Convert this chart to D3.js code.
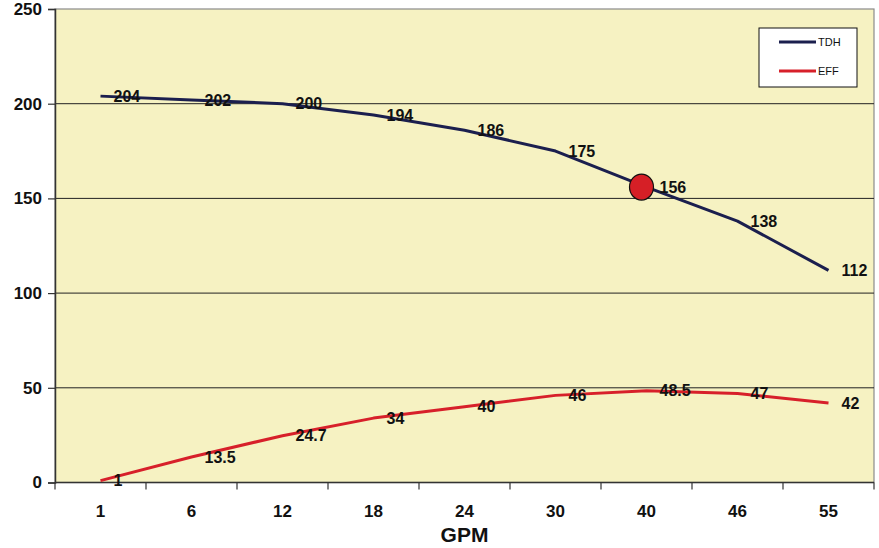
<!DOCTYPE html>
<html><head><meta charset="utf-8">
<script src="https://cdn.jsdelivr.net/npm/d3@7"></script>
<style>body{margin:0;background:#fff}svg{display:block;font-family:Arial,"Liberation Sans",sans-serif}</style>
</head><body><svg id="c" width="879" height="548"></svg>
<script>
const categories = ["1","6","12","18","24","30","40","46","55"];
const tdh = [204,202,200,194,186,175,156,138,112];
const eff = [1,13.5,24.7,34,40,46,48.5,47,42];
const yTicks = [0,50,100,150,200,250];
const highlightCategory = "40";
const xTitle = "GPM";
const seriesNames = ["TDH","EFF"];

const svg = d3.select("#c");
const m = {l:55, r:874, t:9, b:482.5};
const x = d3.scaleBand().domain(categories).range([m.l, m.r]);
const y = d3.scaleLinear().domain([0,250]).range([m.b, m.t]);
const cx = c => x(c) + x.bandwidth()/2;

svg.append("rect").attr("x",m.l).attr("y",m.t).attr("width",m.r-m.l).attr("height",m.b-m.t)
  .attr("fill","#f6f2c2").attr("stroke","#8a8a8a").attr("stroke-width",1.2);

// gridlines
svg.append("g").selectAll("line").data(yTicks.filter(v=>v>0&&v<250)).join("line")
  .attr("x1",m.l).attr("x2",m.r).attr("y1",d=>y(d)).attr("y2",d=>y(d))
  .attr("stroke","#222").attr("stroke-width",1);

// y axis
const ya = svg.append("g").attr("transform",`translate(${m.l},0)`)
  .call(d3.axisLeft(y).tickValues(yTicks).tickSize(7).tickPadding(6).tickFormat(d3.format("d")));
ya.select(".domain").attr("stroke","#333").attr("stroke-width",1.5);
ya.selectAll(".tick line").attr("stroke","#333").attr("stroke-width",1.2);
ya.selectAll("text").attr("font-size",17).attr("font-weight","bold").attr("fill","#111").attr("font-family","Arial");

// x axis with ticks between categories
const xa = svg.append("g").attr("transform",`translate(0,${m.b})`);
xa.append("line").attr("x1",m.l).attr("x2",m.r).attr("stroke","#333").attr("stroke-width",1.5);
const bounds = categories.map(c=>x(c)).concat([m.r]);
xa.selectAll("line.t").data(bounds).join("line").attr("class","t")
  .attr("x1",d=>d).attr("x2",d=>d).attr("y1",0).attr("y2",7).attr("stroke","#333").attr("stroke-width",1.2);
xa.selectAll("text").data(categories).join("text")
  .attr("x",d=>cx(d)).attr("y",34).attr("text-anchor","middle")
  .attr("font-size",17).attr("font-weight","bold").attr("fill","#111").text(d=>d);
svg.append("text").attr("x",(m.l+m.r)/2).attr("y",542).attr("text-anchor","middle")
  .attr("font-size",21).attr("font-weight","bold").attr("fill","#111").text(xTitle);

// lines
const line = d3.line().x((d,i)=>cx(categories[i])).y(d=>y(d));
const colors = ["#1b1f4e","#d7202a"];
[tdh,eff].forEach((s,k)=>{
  svg.append("path").datum(s).attr("d",line).attr("fill","none")
    .attr("stroke",colors[k]).attr("stroke-width",3).attr("stroke-linejoin","round");
});

// highlight marker
const hi = categories.indexOf(highlightCategory);
svg.append("ellipse").attr("cx",cx(highlightCategory)-5).attr("cy",y(tdh[hi]))
  .attr("rx",12).attr("ry",13).attr("fill","#d61f26").attr("stroke","#111").attr("stroke-width",1.2);

// data labels
[tdh,eff].forEach(s=>{
  svg.append("g").selectAll("text").data(s).join("text")
    .attr("x",(d,i)=>cx(categories[i])+13).attr("y",(d,i)=>y(d))
    .attr("dy","0.35em").attr("font-size",16).attr("font-weight","bold").attr("fill","#111")
    .text(d=>d);
});

// legend
const lg = svg.append("g");
lg.append("rect").attr("x",759).attr("y",28).attr("width",98).attr("height",59)
  .attr("fill","#fff").attr("stroke","#111").attr("stroke-width",1);
seriesNames.forEach((n,i)=>{
  const yy = 42 + i*29;
  lg.append("line").attr("x1",779).attr("x2",816).attr("y1",yy).attr("y2",yy)
    .attr("stroke",colors[i]).attr("stroke-width",3);
  lg.append("text").attr("x",818).attr("y",yy).attr("dy","0.35em").attr("font-size",11)
    .attr("fill","#111").text(n);
});
</script></body></html>
